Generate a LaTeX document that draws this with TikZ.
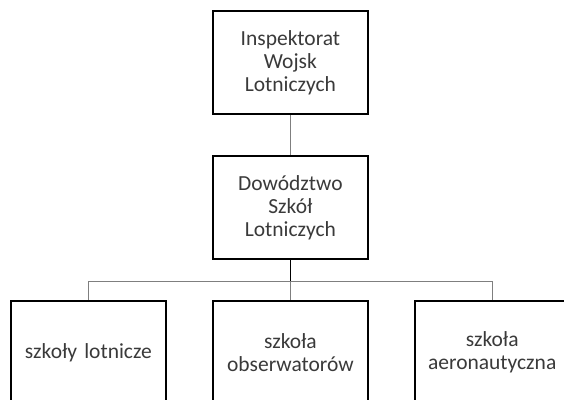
\documentclass[tikz,border=0pt]{standalone}
\usepackage{fontspec}
\setmainfont{Carlito}
\definecolor{txt}{HTML}{3A3A3A}
\definecolor{conn}{HTML}{7F7F7F}
\tikzset{
  orgbox/.style={draw=black, line width=1.8pt, fill=white, minimum width=155pt, minimum height=103pt,
    text width=152pt, align=center, text=txt, font=\fontsize{21.5pt}{23pt}\selectfont, inner sep=0pt},
  conline/.style={draw=conn, line width=1.3pt},
  darkline/.style={draw=black, line width=1.8pt}
}
\begin{document}
\begin{tikzpicture}[x=1pt,y=-1pt]
\useasboundingbox (0,0) rectangle (564,399);
\clip (0,0) rectangle (564,399);
\fill[white] (0,0) rectangle (564,399);
\node[orgbox] (top) at (290.4,62.5) {Inspektorat\\Wojsk\\Lotniczych};
\node[orgbox] (mid) at (290.4,207.3) {Dowództwo\\Szkół\\Lotniczych};
\node[orgbox] (b1) at (88.4,352.5) {szkoły lotnicze};
\node[orgbox] (b2) at (290.4,352.5) {szkoła\\obserwatorów};
\node[orgbox] (b3) at (492.2,352.5) {szkoła\\aeronautyczna};
\coordinate (j) at (290.4,281.2);
\coordinate (jl) at (88.4,281.2);
\coordinate (jr) at (492.2,281.2);
\draw[conline] (top.south) -- (mid.north);
\draw[conline] (jl) -- (jr);
\draw[conline] (jl) -- (b1.north);
\draw[conline] (j) -- (b2.north);
\draw[conline] (jr) -- (b3.north);
\draw[darkline] (mid.south) -- (j);
\end{tikzpicture}
\end{document}
